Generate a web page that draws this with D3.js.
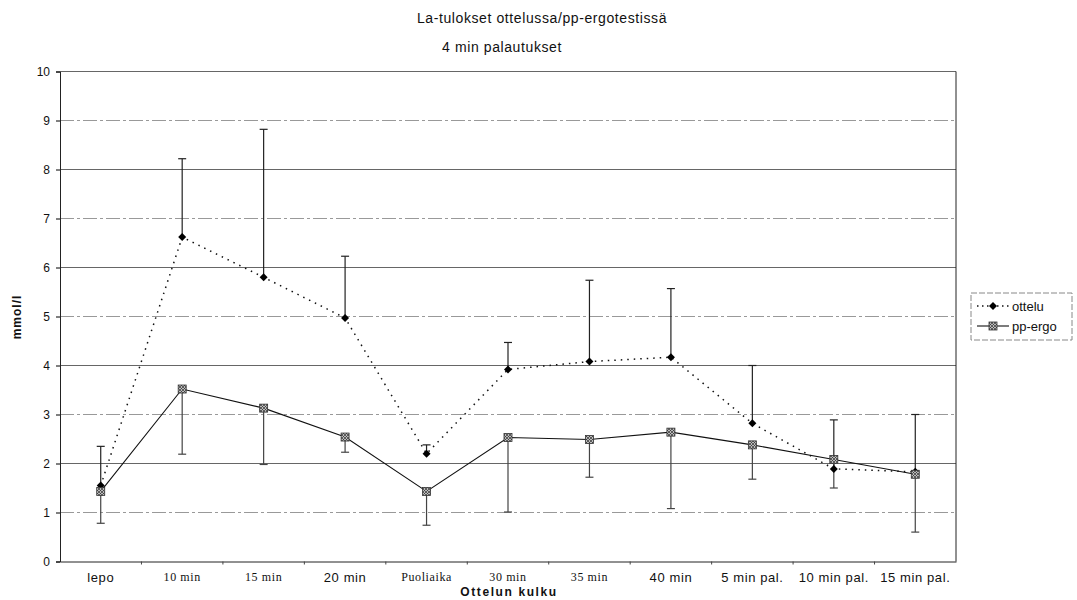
<html lang="fi">
<head>
<meta charset="UTF-8">
<title>La-tulokset</title>
<script src="https://cdn.jsdelivr.net/npm/d3@7/dist/d3.min.js"></script>
<style>
  body { margin:0; padding:0; background:#fff; }
  text { font-family: "Liberation Sans", Arial, sans-serif; fill:#111; }
</style>
</head>
<body>
<svg width="1077" height="600"></svg>
<script>
// data
var categories = ["lepo","10 min","15 min","20 min","Puoliaika","30 min","35 min","40 min","5 min pal.","10 min pal.","15 min pal."]
var ottelu      = [1.55, 6.62, 5.80, 4.97, 2.20, 3.92, 4.08, 4.17, 2.82, 1.89, 1.83]
var otteluUpper = [2.35, 8.22, 8.82, 6.23, 2.38, 4.47, 5.74, 5.57, 4.00, 2.89, 3.00]
var ppErgo      = [1.43, 3.52, 3.13, 2.54, 1.43, 2.53, 2.49, 2.64, 2.38, 2.08, 1.78]
var ppErgoLower = [0.78, 2.19, 1.98, 2.23, 0.74, 1.01, 1.72, 1.08, 1.68, 1.50, 0.60]
var yTicks = [0,1,2,3,4,5,6,7,8,9,10]

// some tick labels were printed in a serif face in the original scan
var serifLabels = ["10 min","15 min","Puoliaika","30 min","35 min"]

var svg = d3.select('svg')
var pLeft = 60, pRight = 956, pTop = 71.5, pBottom = 561.5

var x = d3.scaleBand().domain(categories).range([pLeft, pRight])
var cx = d => x(d) + x.bandwidth()/2
var y = d3.scaleLinear().domain([0, 10]).range([pBottom, pTop])

// hatch pattern for pp-ergo marker
var pat = svg.append('defs').append('pattern')
    .attr('id', 'hatch').attr('width', 3).attr('height', 3)
    .attr('patternUnits', 'userSpaceOnUse')
pat.append('rect').attr('width', 3).attr('height', 3).attr('fill', '#bbb')
pat.append('path').attr('d', 'M0,0L3,3M3,0L0,3').attr('stroke', '#333').attr('stroke-width', 0.7)

// titles
svg.append('text').attr('x', 542).attr('y', 23).attr('text-anchor', 'middle')
    .style('font-size', '14px').style('letter-spacing', '0.6px')
    .text('La-tulokset ottelussa/pp-ergotestissä')
svg.append('text').attr('x', 502).attr('y', 52).attr('text-anchor', 'middle')
    .style('font-size', '14px').style('letter-spacing', '0.6px')
    .text('4 min palautukset')

// grid
svg.append('g').selectAll('line').data(yTicks.filter(d => d > 0)).enter()
    .append('line')
    .attr('x1', pLeft).attr('x2', pRight)
    .attr('y1', d => y(d)).attr('y2', d => y(d))
    .attr('stroke', (d, i) => i % 2 ? '#666' : '#999')
    .attr('stroke-dasharray', (d, i) => i % 2 ? null : '14,3,3,3')

// right border
svg.append('line').attr('x1', pRight).attr('x2', pRight).attr('y1', pTop).attr('y2', pBottom)
    .attr('stroke', '#222')

// y axis
var yAxis = svg.append('g').attr('transform', 'translate(' + pLeft + ',0)')
    .call(d3.axisLeft(y).tickValues(yTicks).tickSize(4).tickPadding(6))
yAxis.select('.domain').attr('stroke', '#222')
yAxis.selectAll('text').style('font-size', '12px').style('font-family', '"Liberation Sans", Arial, sans-serif')

// x axis
var xAxis = svg.append('g').attr('transform', 'translate(0,' + pBottom + ')')
    .call(d3.axisBottom(x).tickSize(0).tickPadding(11))
xAxis.select('.domain').attr('stroke', '#222')
xAxis.selectAll('text')
    .style('font-size', d => serifLabels.includes(d) ? '12px' : '13px')
    .style('letter-spacing', '0.6px')
    .style('font-family', d => serifLabels.includes(d) ? '"Liberation Serif", "Times New Roman", serif' : '"Liberation Sans", Arial, sans-serif')
svg.append('g').selectAll('line').data(categories.slice(1)).enter()
    .append('line')
    .attr('x1', d => x(d)).attr('x2', d => x(d))
    .attr('y1', pBottom).attr('y2', pBottom + 3).attr('stroke', '#444')

// axis titles
svg.append('text').attr('x', 509).attr('y', 596).attr('text-anchor', 'middle')
    .style('font-size', '12px').style('font-weight', 'bold').style('letter-spacing', '1.6px')
    .text('Ottelun kulku')
svg.append('text').attr('transform', 'translate(21,317) rotate(-90)').attr('text-anchor', 'middle')
    .style('font-size', '12px').style('font-weight', 'bold').style('letter-spacing', '1px')
    .text('mmol/l')

// error bars
function errorBars(vals, ends, color) {
    var g = svg.append('g').attr('stroke', color).attr('stroke-width', 1.2)
    categories.forEach((c, i) => {
        g.append('line').attr('x1', cx(c)).attr('x2', cx(c))
            .attr('y1', y(vals[i])).attr('y2', y(ends[i]))
        g.append('line').attr('x1', cx(c) - 4).attr('x2', cx(c) + 4)
            .attr('y1', y(ends[i])).attr('y2', y(ends[i]))
    })
}
errorBars(ottelu, otteluUpper, '#222')
errorBars(ppErgo, ppErgoLower, '#444')

// lines
var line = d3.line().x((d, i) => cx(categories[i])).y(d => y(d))
svg.append('path').datum(ottelu).attr('d', line)
    .attr('fill', 'none').attr('stroke', '#111').attr('stroke-width', 1.5)
    .attr('stroke-dasharray', '1.5,5')
svg.append('path').datum(ppErgo).attr('d', line)
    .attr('fill', 'none').attr('stroke', '#111').attr('stroke-width', 1.1)

// markers: square diamond for ottelu
var diamond = d3.symbol().type(d3.symbolSquare).size(32)
svg.append('g').selectAll('path').data(ottelu).enter()
    .append('path').attr('d', diamond)
    .attr('transform', (d, i) => 'translate(' + cx(categories[i]) + ',' + y(d) + ') rotate(45)')
    .attr('fill', '#000')
svg.append('g').selectAll('rect').data(ppErgo).enter()
    .append('rect')
    .attr('x', (d, i) => cx(categories[i]) - 4).attr('y', d => y(d) - 4)
    .attr('width', 8).attr('height', 8)
    .attr('fill', 'url(#hatch)').attr('stroke', '#333').attr('stroke-width', 0.8)

// legend
var lg = svg.append('g').attr('transform', 'translate(971,293)')
lg.append('rect').attr('width', 101).attr('height', 47).attr('fill', 'none')
    .attr('stroke', '#888').attr('stroke-dasharray', '6,2')
lg.append('line').attr('x1', 6).attr('x2', 38).attr('y1', 13).attr('y2', 13)
    .attr('stroke', '#111').attr('stroke-width', 1.5).attr('stroke-dasharray', '1.5,3.5')
lg.append('path').attr('d', diamond).attr('transform', 'translate(22,13) rotate(45)').attr('fill', '#000')
lg.append('text').attr('x', 41).attr('y', 18).style('font-size', '13px').text('ottelu')
lg.append('line').attr('x1', 6).attr('x2', 38).attr('y1', 33).attr('y2', 33)
    .attr('stroke', '#111').attr('stroke-width', 1.1)
lg.append('rect').attr('x', 18).attr('y', 29).attr('width', 8).attr('height', 8)
    .attr('fill', 'url(#hatch)').attr('stroke', '#333').attr('stroke-width', 0.8)
lg.append('text').attr('x', 41).attr('y', 38).style('font-size', '13px').text('pp-ergo')
</script>
</body>
</html>
